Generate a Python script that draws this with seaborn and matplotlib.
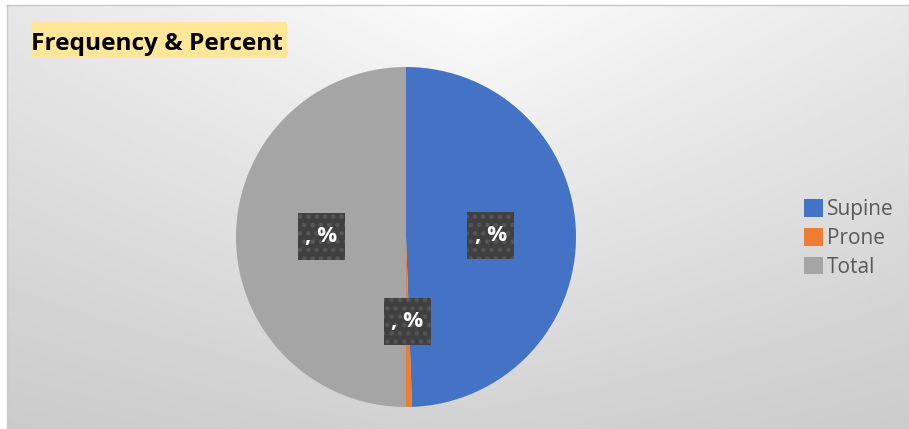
import matplotlib
matplotlib.use('Agg')
import matplotlib.pyplot as plt
import matplotlib.patches as mpatches
import numpy as np
import seaborn as sns

# data (labels in the source are broken: ", %")
positions = ['Supine', 'Prone', 'Total']
counts = [87, 1, 88]
slice_colors = ['#4472C4', '#ED7D31', '#A5A5A5']
label_text = ', %'
title = 'Frequency & Percent'

W, H = 909, 429

sns.set_theme(style='white')
plt.rcParams['font.family'] = ['Open Sans', 'DejaVu Sans']
plt.rcParams['hatch.linewidth'] = 2.0

fig = plt.figure(figsize=(W / 100, H / 100), dpi=100)
fig.patch.set_facecolor('white')

# chart area with a soft gray gradient
bg = fig.add_axes([7 / W, 0, (W - 7) / W, (H - 5) / H])
yy, xx = np.mgrid[0:1:200j, 0:1:400j]
dx = np.abs(xx - 0.52) / 0.52
shade = 0.985 - 0.08 * dx - 0.16 * yy + 0.05 * dx * yy
bg.imshow(shade, cmap='gray', vmin=0, vmax=1, aspect='auto', interpolation='bilinear')
bg.set_xticks([])
bg.set_yticks([])
for s in bg.spines.values():
    s.set_color('#c8c8c8')
    s.set_linewidth(1)

# title with highlight
fig.patches.append(mpatches.Rectangle((31 / W, (H - 58) / H), 256 / W, 36 / H,
                                      transform=fig.transFigure, facecolor='#FFE699',
                                      edgecolor='none', zorder=2))
fig.text(31 / W, (H - 50) / H, title, fontsize=17.6, fontweight='bold',
         color='black', va='baseline', ha='left', zorder=3)

# pie
ax = fig.add_axes([(406 - 170) / W, (H - 237 - 170) / H, 340 / W, 340 / H])
wedges, texts, autotexts = ax.pie(counts, colors=slice_colors, startangle=90,
                                  counterclock=False, autopct=lambda p: label_text,
                                  pctdistance=0.5, wedgeprops=dict(linewidth=0))
ax.set_xlim(-1, 1)
ax.set_ylim(-1, 1)

xs = [t.get_position()[0] for t in autotexts]
ys = [t.get_position()[1] for t in autotexts]
ax.scatter(xs, ys, marker='s', s=(47 * 0.72) ** 2, c='#404040', edgecolors='#555555',
           linewidths=0, hatch='..', zorder=4, clip_on=False)
for t in autotexts:
    t.set_color('white')
    t.set_fontweight('bold')
    t.set_fontsize(16)
    t.set_zorder(5)

handles = [mpatches.Patch(facecolor=c, edgecolor='none', label=l)
           for c, l in zip(slice_colors, positions)]
fig.legend(handles=handles, loc='upper left', bbox_to_anchor=(804 / W, 1 - 199 / H),
           frameon=False, fontsize=15, labelcolor='#595959', handlelength=0.92,
           handleheight=0.92, labelspacing=0.38, handletextpad=0.2, borderaxespad=0,
           borderpad=0)

fig.savefig('out.png', dpi=100)
